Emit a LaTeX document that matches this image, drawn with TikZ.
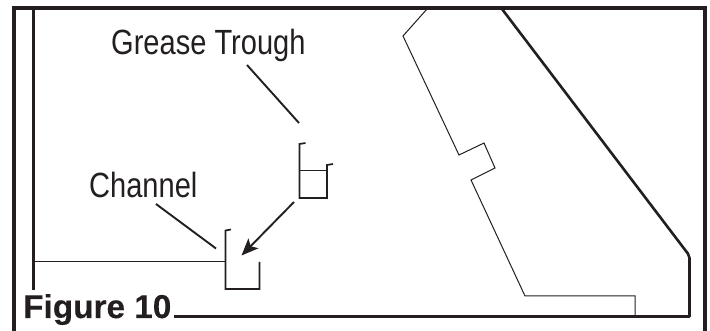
\documentclass[tikz,border=0pt]{standalone}
\usepackage{fontspec}
\setmainfont{Liberation Sans}
\newfontfamily\condf[FakeStretch=0.83]{Liberation Sans}
\newfontfamily\figf[FakeStretch=1.01,FakeBold=0.2]{Liberation Sans Bold}
\usetikzlibrary{arrows.meta}
\definecolor{ink}{RGB}{35,31,32}
\tikzset{
  frameline/.style={line width=3.8pt,draw=ink,line cap=butt,line join=miter},
  wall/.style={line width=2.6pt,draw=ink,line join=round},
  part/.style={line width=1.7pt,draw=ink,line join=miter},
  thin/.style={line width=1pt,draw=ink,line join=miter},
  leader/.style={line width=1.9pt,draw=ink},
  callout/.style={inner sep=0pt,text=ink,font=\condf\fontsize{35}{35}\selectfont,anchor=base west},
  figlabel/.style={inner sep=0pt,text=ink,font=\figf\fontsize{33}{33}\selectfont,anchor=base west}
}
\begin{document}
\begin{tikzpicture}[x=1pt,y=-1pt]
\useasboundingbox (0,0) rectangle (710,331);
\fill[white] (0,0) rectangle (710,331);
% frame
\draw[frameline] (13.7,331) -- (13.7,8.3) -- (705,8.3) -- (705,331);
% inner wall and cabinet outline
\draw[wall] (33.3,9) -- (33.3,290);
\draw[wall] (174,316.5) -- (689.5,316.5) -- (689.5,258) .. controls (689.5,254) and (687,253) .. (684,248.5) -- (502,9);
% thin profile
\draw[thin] (427,9) -- (403,36) -- (459,155) -- (484,143) -- (495,168) -- (471,180) -- (525,296) -- (635,296) -- (635,316);
\draw[thin] (34,262) -- (225,262);
% channel
\draw[part] (231,229.5) -- (225.5,230.5) -- (225.5,289) -- (259.5,289) -- (259.5,262);
% grease trough
\draw[part] (305.5,143) -- (299.5,144) -- (299.5,198) -- (327,198) -- (327,165) -- (333,164);
\draw[thin] (300,171) -- (327,171);
% labels
\node[callout] (grease) at (111,55) {Grease Trough};
\node[callout] (channel) at (89,198) {Channel};
\node[figlabel] (fig) at (23,318) {Figure 10};
% leaders
\coordinate (gtip) at (299,123);
\coordinate (ctip) at (216,248.5);
\coordinate (afrom) at (294,202);
\coordinate (ato) at (241.5,255.5);
\draw[leader] (247,65) -- (gtip);
\draw[leader] (156,204) -- (ctip);
\draw[leader,-{Stealth[length=17pt,width=14pt,inset=4pt]}] (afrom) -- (ato);
\end{tikzpicture}
\end{document}
